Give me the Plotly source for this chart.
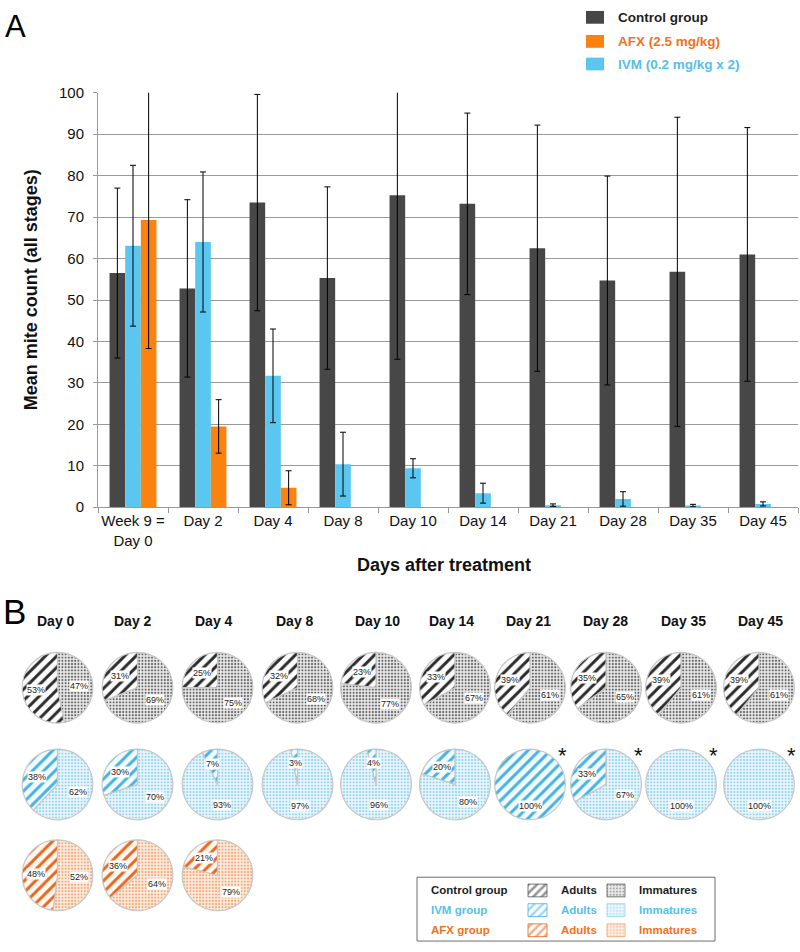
import math
import plotly.graph_objects as go

W, H = 800, 952
FONT = "Liberation Sans, Arial, Helvetica, sans-serif"

# ---------------- Panel A data ----------------
categories = ["Week 9 =<br>Day 0", "Day 2", "Day 4", "Day 8", "Day 10",
              "Day 14", "Day 21", "Day 28", "Day 35", "Day 45"]
control_mean = [56.5, 52.8, 73.5, 55.3, 75.3, 73.2, 62.5, 54.7, 56.8, 61.0]
control_err = [20.5, 21.4, 26.1, 22.0, 39.6, 21.9, 29.7, 25.2, 37.3, 30.6]
ivm_mean = [63.1, 64.0, 31.7, 10.4, 9.4, 3.4, 0.5, 2.0, 0.4, 0.8]
ivm_err = [19.4, 16.9, 11.3, 7.7, 2.3, 2.4, 0.3, 1.75, 0.3, 0.5]
afx_mean = [69.3, 19.5, 4.7, None, None, None, None, None, None, None]
afx_err = [31.0, 6.45, 4.1, None, None, None, None, None, None, None]

legend_names = ["Control group", "AFX (2.5 mg/kg)", "IVM (0.2 mg/kg x 2)"]

# ---------------- Panel B data ----------------
pie_days = ["Day 0", "Day 2", "Day 4", "Day 8", "Day 10",
            "Day 14", "Day 21", "Day 28", "Day 35", "Day 45"]
control_adults = [53, 31, 25, 32, 23, 33, 39, 35, 39, 39]
control_immatures = [47, 69, 75, 68, 77, 67, 61, 65, 61, 61]
ivm_adults = [38, 30, 7, 3, 4, 20, 100, 33, 0, 0]
ivm_immatures = [62, 70, 93, 97, 96, 80, 0, 67, 100, 100]
afx_adults = [48, 36, 21]
afx_immatures = [52, 64, 79]
ivm_significant = [False, False, False, False, False, False, True, True, True, True]

# ---------------- colours ----------------
C_CTRL = "#474747"
C_IVM = "#5BC7F0"
C_AFX = "#FA820F"
T_CTRL = "#1e1e1e"
T_IVM = "#55BFEA"
T_AFX = "#F07222"


def fx(x):
    return x / W


def fy(y):
    return 1 - y / H


def ann(x, y, text, size, color, xanchor="center", yanchor="middle", **kw):
    d = dict(x=fx(x), y=fy(y), xref="paper", yref="paper", xanchor=xanchor,
             yanchor=yanchor, showarrow=False, text=text,
             font=dict(size=size, color=color, family=FONT))
    d.update(kw)
    return d


# plot area (pixels)
PX0, PX1 = 98, 798
PY_TOP, PY_BOT = 85.3, 507.3

fig = go.Figure()

err_style = dict(type="data", color="black", thickness=1, width=3, visible=True)
fig.add_trace(go.Bar(x=categories, y=control_mean, name=legend_names[0],
                     marker=dict(color=C_CTRL, line=dict(width=0)),
                     error_y=dict(array=control_err, **err_style)))
fig.add_trace(go.Bar(x=categories, y=ivm_mean, name=legend_names[2],
                     marker=dict(color=C_IVM, line=dict(width=0)),
                     error_y=dict(array=ivm_err, **err_style)))
fig.add_trace(go.Bar(x=categories, y=afx_mean, name=legend_names[1],
                     marker=dict(color=C_AFX, line=dict(width=0)),
                     error_y=dict(array=afx_err, **err_style)))

annotations = []
shapes = []

# top legend (manual)
leg_rows = [8.5, 33, 56]
leg_cols = [C_CTRL, C_AFX, C_IVM]
leg_txt_cols = [T_CTRL, T_AFX, T_IVM]
for yc, c, tc, name in zip(leg_rows, leg_cols, leg_txt_cols, legend_names):
    shapes.append(dict(type="rect", xref="paper", yref="paper",
                       x0=fx(586), x1=fx(604), y0=fy(yc + 6.5), y1=fy(yc - 6.5),
                       fillcolor=c, line=dict(width=0)))
    annotations.append(ann(616, yc, "<b>%s</b>" % name, 13.5, tc, xanchor="left"))

# panel letters
annotations.append(ann(3, 18, "A", 31, "black", xanchor="left"))
annotations.append(ann(1, 613, "B", 35, "black", xanchor="left"))

# axis titles
annotations.append(ann(31, (PY_TOP + PY_BOT) / 2 - 10, "<b>Mean mite count (all stages)</b>",
                       18, "#111", textangle=-90))
annotations.append(ann(444, 566, "<b>Days after treatment</b>", 18, "#111"))

# ---------------- Panel B pies ----------------
col_x = [57.5, 137.5, 217.5, 297.5, 376, 455, 530, 606, 681, 759]
title_x = [56, 133, 214, 295, 377, 452, 528, 605.5, 683, 760]
row_y = [691, 789.5, 882]
R = 36

group_styles = [
    dict(adult_fg="#2a2a2a", adult_bg="#fbfbfb", imm_fg="#5e5e5e", imm_bg="#e9e9e9"),
    dict(adult_fg="#45b3e2", adult_bg="#f3fafd", imm_fg="#8fd0ef", imm_bg="#eaf6fc"),
    dict(adult_fg="#e8661e", adult_bg="#fff6f0", imm_fg="#f3a26a", imm_bg="#fdede2"),
]
groups = [(control_adults, control_immatures),
          (ivm_adults, ivm_immatures),
          (afx_adults, afx_immatures)]

for i, d in enumerate(pie_days):
    annotations.append(ann(title_x[i], 623, "<b>%s</b>" % d, 14, "#111"))

for g, (adults, imms) in enumerate(groups):
    st = group_styles[g]
    cy = row_y[g]
    for i in range(len(adults)):
        cx = col_x[i]
        slices = [("Immatures", imms[i], ".", st["imm_fg"], st["imm_bg"], 3.2, 0.3),
                  ("Adults", adults[i], "/", st["adult_fg"], st["adult_bg"], 8, 0.36)]
        slices = [s for s in slices if s[1] > 0]
        fig.add_trace(go.Pie(
            values=[s[1] for s in slices], labels=[s[0] for s in slices], sort=False,
            direction="clockwise", rotation=0, textinfo="none", hoverinfo="label+value",
            showlegend=False,
            domain=dict(x=[fx(cx - R), fx(cx + R)], y=[fy(cy + R), fy(cy - R)]),
            marker=dict(colors=[s[4] for s in slices],
                        line=dict(color="#c6c6c6", width=1.2),
                        pattern=dict(shape=[s[2] for s in slices],
                                     fgcolor=[s[3] for s in slices],
                                     bgcolor=[s[4] for s in slices],
                                     size=[s[5] for s in slices],
                                     solidity=[s[6] for s in slices])),
        ))
        total = sum(s[1] for s in slices)
        cum = 0
        for s in slices:
            v = s[1]
            mid = (cum + v / 2) / total * 2 * math.pi
            rr = 0.6 * R
            lx = cx + rr * math.sin(mid)
            ly = cy - rr * math.cos(mid)
            annotations.append(ann(lx, ly, "%d%%" % v, 9, "#222", bgcolor="white", borderpad=0))
            cum += v
        if g == 1 and ivm_significant[i]:
            annotations.append(ann(cx + 32, cy - 29, "*", 22, "#111"))

# ---------------- pie legend box ----------------
BX0, BX1, BY0, BY1 = 417, 715, 884, 949
shapes.append(dict(type="rect", xref="paper", yref="paper",
                   x0=fx(BX0), x1=fx(BX1), y0=fy(BY1), y1=fy(BY0),
                   line=dict(color="#6f6f6f", width=1), fillcolor="rgba(0,0,0,0)"))
box_rows = [897.5, 917.5, 938]
box_labels = ["Control group", "IVM group", "AFX group"]
box_cols = [T_CTRL, T_IVM, T_AFX]
for r, (yc, lab, tc) in enumerate(zip(box_rows, box_labels, box_cols)):
    st = group_styles[r]
    annotations.append(ann(429, yc, "<b>%s</b>" % lab, 11.5, tc, xanchor="left"))
    annotations.append(ann(559, yc, "<b>Adults</b>", 11.5, tc, xanchor="left"))
    annotations.append(ann(637, yc, "<b>Immatures</b>", 11.5, tc, xanchor="left"))
    for (sx0, sx1, shp, fg, bg, sz, so) in [
            (528, 547, "/", st["adult_fg"], "white", 6, 0.42),
            (607, 625, ".", st["imm_fg"], st["imm_bg"], 3.2, 0.3)]:
        fig.add_trace(go.Scatter(
            x=[sx0, sx1, sx1, sx0, sx0], y=[yc - 6.5, yc - 6.5, yc + 6.5, yc + 6.5, yc - 6.5],
            xaxis="x2", yaxis="y2", mode="lines", fill="toself",
            line=dict(color="#555" if r == 0 else fg, width=0.8),
            fillcolor=bg,
            fillpattern=dict(shape=shp, fgcolor=fg, bgcolor=bg, size=sz, solidity=so),
            hoverinfo="skip", showlegend=False))

fig.update_layout(
    width=W, height=H, margin=dict(l=0, r=0, t=0, b=0),
    paper_bgcolor="white", plot_bgcolor="rgba(0,0,0,0)",
    font=dict(family=FONT, color="#111"),
    barmode="group", bargap=0.33, bargroupgap=0,
    showlegend=False,
    xaxis=dict(domain=[fx(PX0), fx(PX1)], anchor="y", type="category",
               showline=True, linecolor="#9a9a9a", linewidth=1,
               ticks="outside", tickson="boundaries", ticklen=5, tickcolor="#9a9a9a",
               showgrid=False, tickangle=0, tickfont=dict(size=15, color="#111")),
    yaxis=dict(domain=[fy(PY_BOT), fy(PY_TOP)], anchor="x", range=[0, 100], dtick=10,
               showline=True, linecolor="#9a9a9a", linewidth=1,
               ticks="outside", ticklen=4, tickcolor="#9a9a9a",
               showgrid=True, gridcolor="#9a9a9a", gridwidth=1, zeroline=False,
               tickfont=dict(size=15, color="#111"), ticklabelstandoff=6),
    xaxis2=dict(domain=[fx(BX0), fx(BX1)], anchor="y2", range=[BX0, BX1],
                visible=False, fixedrange=True),
    yaxis2=dict(domain=[fy(BY1), fy(BY0)], anchor="x2", range=[BY1, BY0],
                visible=False, fixedrange=True),
    annotations=annotations, shapes=shapes,
)

fig.write_html("out.html", config={"displayModeBar": False},
               post_script="document.body.style.margin='0';document.body.style.overflow='hidden';")
